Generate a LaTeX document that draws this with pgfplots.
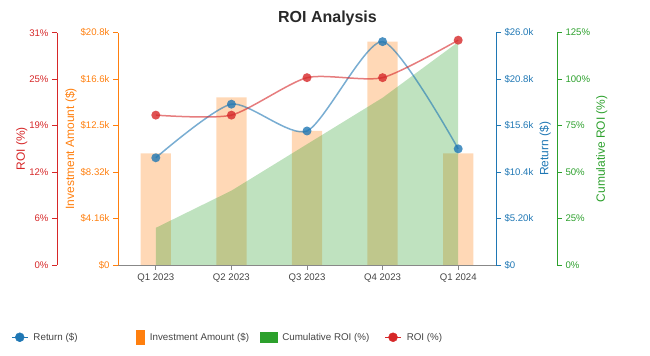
\documentclass[border=0pt]{standalone}
\usepackage{fontspec}
\setmainfont{Liberation Sans}
\usepackage{pgfplots}
\usepackage{pgfplotstable}
\pgfplotsset{compat=1.18}
\definecolor{cRed}{HTML}{D62728}
\definecolor{cOrange}{HTML}{FF7F0E}
\definecolor{cGreen}{HTML}{2CA02C}
\definecolor{cBlue}{HTML}{1F77B4}
\definecolor{cText}{HTML}{444444}
\definecolor{cAxis}{HTML}{888888}

\pgfplotstableread{
x inv ret roi cum
0 10000 12000 20 20
1 15000 18000 20 40
2 12000 15000 25 65
3 20000 25000 25 90
4 10000 13000 30 120
}\data

\pgfplotsset{
  dims/.style={scale only axis, height=232.3bp, anchor=south west, ymin=0,
    scaled y ticks=false,
    tick align=outside, major tick length=5bp,
    tick label style={font=\fontsize{9.6bp}{11bp}\selectfont},
    ylabel near ticks},
  base/.style={dims, width=378bp, at={(118bp,91bp)}, xmin=-0.5, xmax=4.5},
  yax/.style={y axis line style={#1, line width=0.8bp, -}, y tick style={#1, line width=0.8bp},
    yticklabel style={text=#1},
    ylabel style={text=#1, font=\fontsize{12bp}{14bp}\selectfont, inner sep=2.5bp}},
}

\begin{document}
\begin{tikzpicture}
\useasboundingbox (0,0) rectangle (650bp,356bp);

% Investment bars (orange axis, x axis)
\begin{axis}[base, ymax=20800,
  axis y line*=left, ytick pos=left, yticklabel pos=left,
  axis x line*=bottom, xtick pos=left,
  x axis line style={cAxis, line width=0.8bp, -},
  x tick style={cAxis, line width=0.8bp}, xtick={0,1,2,3,4},
  xticklabels={Q1 2023,Q2 2023,Q3 2023,Q4 2023,Q1 2024},
  xticklabel style={text=cText},
  yax=cOrange,
  ytick={0,4160,8320,12480,16640,20800},
  yticklabels={\$0,\$4.16k,\$8.32k,\$12.5k,\$16.6k,\$20.8k},
  ylabel={Investment Amount (\$)},
  ylabel style={at={(ticklabel cs:0.5,-2bp)}}]
\addplot[ybar, bar width=0.4, bar shift=0, fill=cOrange, fill opacity=0.3, draw=none] table[x=x,y=inv]{\data};
\end{axis}

% Cumulative ROI area
\begin{axis}[base, ymax=125, hide axis]
\addplot[fill=cGreen, fill opacity=0.3, draw=none] table[x=x,y=cum]{\data} \closedcycle;
\end{axis}

% Return line (blue axis)
\begin{axis}[base, ymax=26000, hide x axis,
  axis y line*=right, ytick pos=right, yticklabel pos=right,
  yax=cBlue,
  ytick={0,5200,10400,15600,20800,26000},
  yticklabels={\$0,\$5.20k,\$10.4k,\$15.6k,\$20.8k,\$26.0k},
  ylabel={Return (\$)}]
\addplot[smooth, tension=0.4, cBlue, draw opacity=0.6, line width=1.5bp, mark=*, mark size=4.5bp,
  mark options={draw=none, fill=cBlue, fill opacity=0.8, draw opacity=0}] table[x=x,y=ret]{\data};
\end{axis}

% ROI line
\begin{axis}[base, ymax=31, hide axis]
\addplot[smooth, tension=0.4, cRed, draw opacity=0.6, line width=1.5bp, mark=*, mark size=4.5bp,
  mark options={draw=none, fill=cRed, fill opacity=0.8, draw opacity=0}] table[x=x,y=roi]{\data};
\end{axis}

% ROI axis (red, offset left)
\begin{axis}[dims, width=1bp, at={(57bp,91bp)}, xmin=0, xmax=1, ymax=31, hide x axis,
  axis y line*=left, ytick pos=left, yticklabel pos=left,
  yax=cRed,
  ytick={0,6.2,12.4,18.6,24.8,31},
  yticklabels={0\%,6\%,12\%,19\%,25\%,31\%},
  ylabel={ROI (\%)},
  ylabel style={at={(ticklabel cs:0.5,-4bp)}}]
\end{axis}

% Cumulative ROI axis (green, offset right)
\begin{axis}[dims, width=1bp, at={(556bp,91bp)}, xmin=0, xmax=1, ymax=125, hide x axis,
  axis y line*=right, ytick pos=right, yticklabel pos=right,
  yax=cGreen,
  ytick={0,25,50,75,100,125},
  yticklabels={0\%,25\%,50\%,75\%,100\%,125\%},
  ylabel={Cumulative ROI (\%)}]
\end{axis}

% Legend
\begin{axis}[base, ymax=1, hide axis, legend columns=4,
  legend style={draw=none, fill=none, inner sep=0pt, outer sep=0pt,
    font=\fontsize{9.8bp}{11bp}\selectfont, text=cText,
    nodes={inner sep=0pt},
    /tikz/every odd column/.append style={column sep=5bp},
    at={(-0.28307,-0.30995)}, anchor=west}]
\addlegendimage{legend image code/.code={
  \draw[cBlue, line width=1.5bp] (0bp,0bp)--(16bp,0bp);
  \fill[cBlue] (8bp,0bp) circle[radius=4.5bp];}}
\addlegendentry{\makebox[103bp][l]{Return (\$)}}
\addlegendimage{legend image code/.code={
  \fill[cOrange] (0bp,-7bp) rectangle (8bp,7.5bp);}}
\addlegendentry{\makebox[110bp][l]{Investment Amount (\$)}}
\addlegendimage{legend image code/.code={
  \fill[cGreen] (0bp,-5bp) rectangle (17bp,5bp);}}
\addlegendentry{\makebox[102bp][l]{Cumulative ROI (\%)}}
\addlegendimage{legend image code/.code={
  \draw[cRed, line width=1.5bp] (0bp,0bp)--(16bp,0bp);
  \fill[cRed] (8bp,0bp) circle[radius=4.5bp];}}
\addlegendentry{ROI (\%)}
\end{axis}

\node[anchor=base, font=\bfseries\fontsize{16bp}{18bp}\selectfont, text=cText!60!black] at (327.5bp,333.1bp) {ROI Analysis};
\end{tikzpicture}
\end{document}
